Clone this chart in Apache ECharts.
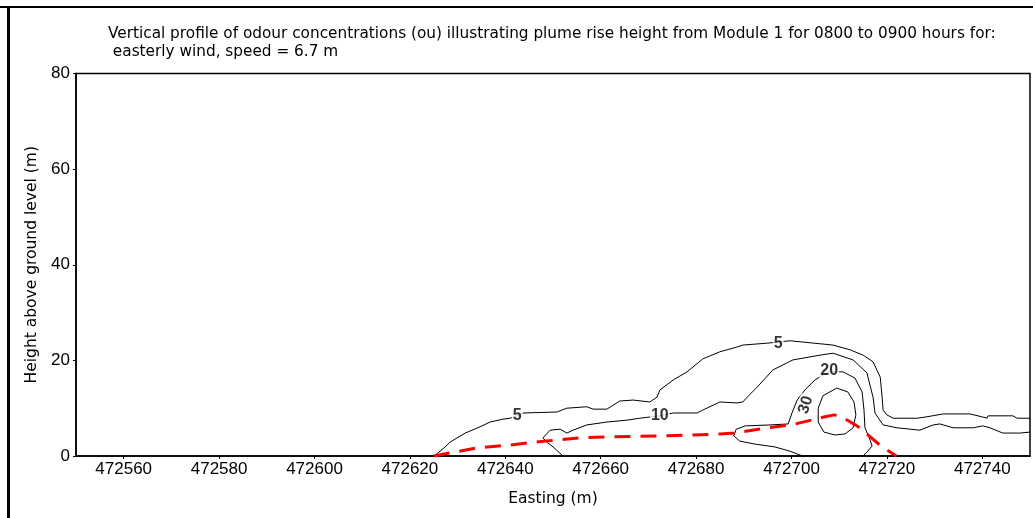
<!DOCTYPE html>
<html>
<head>
<meta charset="utf-8">
<script src="https://cdn.jsdelivr.net/npm/echarts@6/dist/echarts.min.js"></script>
<style>
html,body{margin:0;padding:0;background:#fff;}
#chart{width:1033px;height:518px;}
</style>
</head>
<body>
<div id="chart"></div>
<script>
// ---- data (Easting m, height m) ----
var xTicks = [472560, 472580, 472600, 472620, 472640, 472660, 472680, 472700, 472720, 472740];
var yTicks = [0, 20, 40, 60, 80];

var contour5 = [[472625.1,0],[472627.4,1.9],[472628.4,2.9],[472631.6,4.8],[472634.7,6.1],[472636.8,7.1],[472639.5,7.7],[472641.0,7.9],[472643.9,9.0],[472650.8,9.2],[472652.9,10.0],[472657.1,10.3],[472658.4,9.8],[472661.3,9.8],[472664.0,11.5],[472666.8,11.7],[472670.3,11.3],[472671.8,12.3],[472672.4,13.8],[472675.2,15.9],[472678.1,17.6],[472681.4,20.3],[472685.0,21.8],[472688.6,22.8],[472689.8,23.2],[472694.9,23.6],[472699.7,24.1],[472708.7,23.2],[472712.3,22.2],[472715.0,21.1],[472717.1,19.7],[472718.6,16.5],[472719.0,12.3],[472719.2,9.6],[472720.0,8.6],[472721.3,7.9],[472726.3,7.9],[472728.4,8.2],[472731.8,8.8],[472737.4,8.8],[472739.9,8.2],[472741.0,7.9],[472741.2,8.4],[472746.4,8.4],[472747.3,7.9],[472750,7.9]];

var contour10 = [[472652.1,0],[472650.0,1.9],[472648.7,2.9],[472647.9,3.8],[472649.4,5.4],[472651.5,5.6],[472652.9,4.8],[472654.2,5.4],[472657.1,6.5],[472661.3,7.1],[472665.5,7.5],[472668.2,7.9],[472672.4,8.4],[472675.2,9.0],[472680.2,9.0],[472681.4,9.6],[472685.0,11.3],[472688.6,11.1],[472689.8,11.3],[472690.7,12.3],[472692.8,14.4],[472696.1,18.0],[472700.3,20.1],[472706.0,21.1],[472708.7,21.5],[472712.9,20.1],[472715.8,17.4],[472717.1,12.3],[472717.5,9.0],[472719.2,6.5],[472722.1,5.9],[472726.9,5.4],[472729.7,6.5],[472731.1,6.7],[472733.9,5.9],[472738.1,5.9],[472740.1,6.3],[472741.6,5.9],[472744.3,4.8],[472747.9,4.8],[472750,5.0]];

var contour20 = [[472702.4,0],[472701.8,0.2],[472699.7,1.0],[472696.5,1.9],[472692.3,2.5],[472689.2,3.1],[472687.9,4.2],[472688.4,5.6],[472690.3,6.3],[472695.5,6.5],[472699.3,6.7],[472700.1,9.0],[472701.2,11.7],[472702.8,13.8],[472704.9,15.9],[472707.7,17.6],[472710.8,17.6],[472713.3,16.3],[472714.8,13.4],[472715.2,9.6],[472715.4,5.9],[472716.5,3.3],[472716.9,2.1],[472715.8,0.8],[472715.0,0],[472702.4,0]];

var contour30 = [[472709.5,14.2],[472711.8,13.4],[472713.1,11.3],[472713.5,8.6],[472712.9,5.9],[472711.2,4.6],[472709.1,4.4],[472706.8,5.0],[472705.6,7.1],[472705.6,10.0],[472706.6,12.6],[472709.5,14.2]];

var plumeCentreline = [[472625,0],[472634,1.7],[472641,2.3],[472648,3.1],[472656,3.8],[472661,4.0],[472673,4.2],[472685,4.6],[472688,4.8],[472695,5.9],[472700,6.5],[472707,8.2],[472709,8.6],[472711,7.9],[472714,6.1],[472719,1.9],[472722,0]];

var labelText = ['5', '10', '5', '20', '30'];
var labelPos = [[472642.5,8.4],[472672.4,8.4],[472697.2,23.6],[472707.9,17.8],[472703.0,10.7]];

// ---- chart ----
var FONT = 'Liberation Sans, Arial, sans-serif';
var WIDE = 'DejaVu Sans, sans-serif';
var chart = echarts.init(document.getElementById('chart'), null, {renderer: 'canvas'});

function contourSeries(d) {
  return {type: 'line', data: d, showSymbol: false, symbol: 'none', smooth: false,
    lineStyle: {color: '#000', width: 1}, z: 3, silent: true, animation: false};
}

var labelData = labelText.map(function (t, i) {
  var item = {name: t, value: labelPos[i]};
  if (t === '30') item.label = {rotate: 72};
  return item;
});

function plain(v) { return String(v); }

var option = {
  animation: false,
  backgroundColor: '#fff',
  title: {
    text: 'Vertical profile of odour concentrations (ou) illustrating plume rise height from Module 1 for 0800 to 0900 hours for:\n easterly wind, speed = 6.7 m',
    left: 103, top: 20,
    textStyle: {fontFamily: WIDE, fontSize: 15.3, fontWeight: 'normal', color: '#000', lineHeight: 18}
  },
  grid: {left: 76, top: 73.5, right: 3, bottom: 62, show: true, borderColor: '#000', borderWidth: 1.5, backgroundColor: 'transparent'},
  xAxis: {
    type: 'value', min: 472550, max: 472750,
    name: 'Easting (m)', nameLocation: 'middle', nameGap: 35,
    nameTextStyle: {fontFamily: WIDE, fontSize: 15.5, color: '#000'},
    axisLine: {show: true, lineStyle: {color: '#000', width: 1.5}},
    axisTick: {show: true, length: 3, customValues: xTicks, lineStyle: {color: '#000'}},
    axisLabel: {customValues: xTicks, formatter: plain, margin: 5, fontFamily: FONT, fontSize: 17, color: '#000'},
    splitLine: {show: false}
  },
  yAxis: {
    type: 'value', min: 0, max: 80, interval: 20,
    name: 'Height above ground level (m)', nameLocation: 'middle', nameGap: 36,
    nameTextStyle: {fontFamily: WIDE, fontSize: 15.5, color: '#000'},
    axisLine: {show: true, lineStyle: {color: '#000', width: 1.5}},
    axisTick: {show: true, length: 3, customValues: yTicks, lineStyle: {color: '#000'}},
    axisLabel: {customValues: yTicks, formatter: plain, margin: 6, fontFamily: FONT, fontSize: 17, color: '#000'},
    splitLine: {show: false}
  },
  series: [
    contourSeries(contour5),
    contourSeries(contour10),
    contourSeries(contour20),
    contourSeries(contour30),
    {type: 'line', data: plumeCentreline, showSymbol: false, symbol: 'none',
      lineStyle: {color: '#ff0000', width: 3, type: [16, 10]}, z: 4, silent: true},
    {type: 'scatter', data: labelData, symbolSize: 0, z: 6, silent: true,
      itemStyle: {color: '#000'},
      label: {show: true, position: 'inside', formatter: '{b}', fontFamily: FONT, fontSize: 16, fontWeight: 'bold',
        color: '#000', textBorderWidth: 0, textBorderColor: 'transparent', backgroundColor: '#fff', padding: [0, 1]}}
  ],
  graphic: [
    {type: 'rect', shape: {x: 0, y: 6, width: 1033, height: 2}, style: {fill: '#000'}, silent: true},
    {type: 'rect', shape: {x: 7, y: 6, width: 3, height: 512}, style: {fill: '#000'}, silent: true}
  ]
};
chart.setOption(option);
</script>
</body>
</html>
